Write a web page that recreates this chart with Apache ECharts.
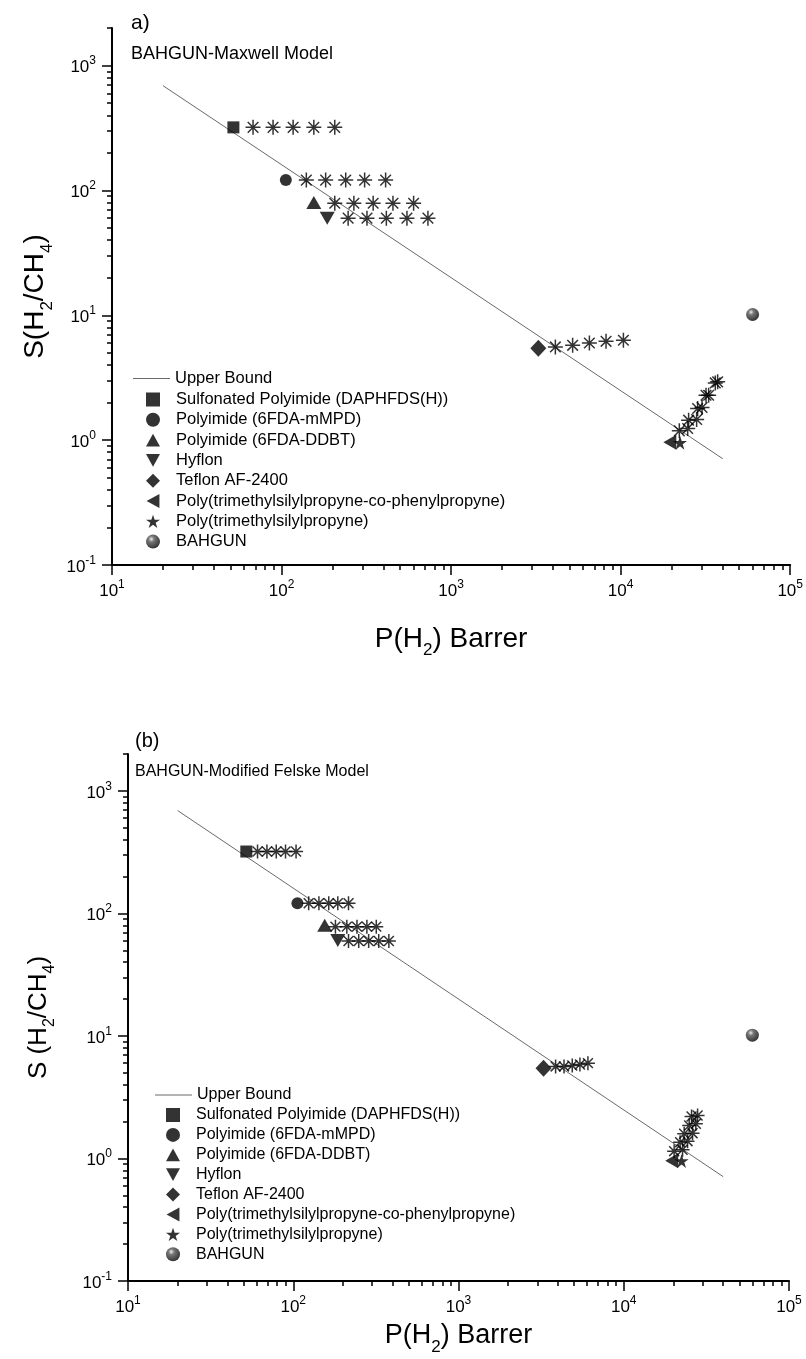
<!DOCTYPE html>
<html><head><meta charset="utf-8">
<script src="https://cdn.jsdelivr.net/npm/echarts@6/dist/echarts.min.js"></script>
<style>html,body{margin:0;padding:0;background:#fff}#c{width:806px;height:1359px}</style>
</head><body><div id="c"></div><script>
// ---------------- DATA ----------------
const upperBoundP = [20, 40000];
const upperBoundS = [690, 0.71];

const materialNames = ['Sulfonated Polyimide (DAPHFDS(H))', 'Polyimide (6FDA-mMPD)', 'Polyimide (6FDA-DDBT)', 'Hyflon', 'Teflon AF-2400', 'Poly(trimethylsilylpropyne-co-phenylpropyne)', 'Poly(trimethylsilylpropyne)', 'BAHGUN'];
const materialP = [52, 106, 155, 186, 3270, 19500, 22400, 60000];
const materialS = [320, 121, 80, 60, 5.45, 0.96, 0.955, 10.15];

// a) Maxwell model predictions (asterisks)
const maxwellDaphP = [67.9, 89.1, 117, 155, 206];
const maxwellDaphS = [320, 320, 320, 320, 320];
const maxwellMmpdP = [140, 182, 239, 309, 411];
const maxwellMmpdS = [121, 121, 121, 121, 121];
const maxwellDdbtP = [206, 267, 347, 454, 601];
const maxwellDdbtS = [79, 79, 79, 79, 79];
const maxwellHyflonP = [247, 319, 415, 549, 730];
const maxwellHyflonS = [60, 60, 60, 60, 60];
const maxwellTeflonP = [4120, 5210, 6540, 8200, 10380];
const maxwellTeflonS = [5.58, 5.75, 6.0, 6.19, 6.31];
const maxwellCoPP_P = [22180, 25170, 28440, 31880, 36140];
const maxwellCoPP_S = [1.187, 1.445, 1.793, 2.29, 2.873];
const maxwellPtmspP = [24850, 28060, 30200, 33040, 37330];
const maxwellPtmspS = [1.24, 1.464, 1.826, 2.29, 2.93];

// b) Modified Felske model predictions (asterisks)
const felskeDaphP = [60.8, 69.3, 78.9, 89.8, 104];
const felskeDaphS = [320, 320, 320, 320, 320];
const felskeMmpdP = [124, 143, 164, 186, 216];
const felskeMmpdS = [121, 121, 121, 121, 121];
const felskeDdbtP = [180, 211, 243, 279, 318];
const felskeDdbtS = [78, 78, 78, 78, 78];
const felskeHyflonP = [216, 249, 286, 329, 379];
const felskeHyflonS = [59.6, 59.6, 59.6, 59.6, 59.6];
const felskeTeflonP = [3870, 4350, 4880, 5430, 6070];
const felskeTeflonS = [5.64, 5.64, 5.74, 5.85, 6.0];
const felskeCoPP_P = [20180, 21930, 23210, 24890, 25720];
const felskeCoPP_S = [1.147, 1.358, 1.591, 1.859, 2.20];
const felskePtmspP = [22700, 24330, 26080, 27300, 27980];
const felskePtmspS = [1.178, 1.384, 1.609, 1.919, 2.244];

const xMajorTicks = [10, 100, 1000, 10000, 100000];
const yMajorTicks = [0.1, 1, 10, 100, 1000];

// ---------------- BUILD ----------------
const FONT = '"Liberation Sans", Arial, Helvetica, sans-serif';
function zip(a, b) { return a.map((v, i) => [v, b[i]]); }
function minorList(lo, hi) {
  const out = [];
  for (let d = lo; d < hi; d *= 10) for (let k = 1; k <= 9; k++) { const v = +(d * k).toPrecision(6); if (v <= hi) out.push(v); }
  out.push(hi);
  return out;
}
const xMinor = minorList(10, 100000);
const yMinor = minorList(0.1, 1000).concat([2000]);

const ASTER = 'path://M0,5L10,5M5,0L5,10M1.46,1.46L8.54,8.54M8.54,1.46L1.46,8.54';
const STAR = 'path://M50,0L61.2,34.5L97.6,34.5L68.2,55.9L79.4,90.5L50,69.1L20.6,90.5L31.8,55.9L2.4,34.5L38.8,34.5Z';
const TRI_UP = 'path://M6,0L12,11L0,11Z';
const TRI_DOWN = 'path://M0,0L12,0L6,11Z';
const TRI_LEFT = 'path://M0,6L11,0L11,12Z';
const sphere = new echarts.graphic.RadialGradient(0.38, 0.32, 0.7, [
  { offset: 0, color: '#e8e8e8' }, { offset: 0.3, color: '#555' }, { offset: 1, color: '#000' }]);

const markerDefs = [
  { symbol: 'rect', size: 12 },
  { symbol: 'circle', size: 12 },
  { symbol: TRI_UP, size: [15, 13] },
  { symbol: TRI_DOWN, size: [15, 13] },
  { symbol: 'diamond', size: [16, 17] },
  { symbol: TRI_LEFT, size: [13, 15] },
  { symbol: STAR, size: 14 },
  { symbol: 'circle', size: 13, sphere: true }
];

function supLabel(v) {
  const e = Math.round(Math.log10(v));
  return '{b|10}{s|' + e + '}';
}
function labelRich(fs) {
  return {
    b: { fontSize: fs, fontFamily: FONT, color: '#000', verticalAlign: 'bottom' },
    s: { fontSize: Math.round(fs * 0.68), fontFamily: FONT, color: '#000', verticalAlign: 'bottom', padding: [0, 0, Math.round(fs * 0.5), 0] }
  };
}
function nameRich(fs) {
  return {
    t: { fontSize: fs, fontFamily: FONT, color: '#000', verticalAlign: 'top' },
    u: { fontSize: Math.round(fs * 0.62), fontFamily: FONT, color: '#000', verticalAlign: 'top', padding: [Math.round(fs * 0.62), 0, 0, 0] }
  };
}

const grids = [
  { left: 112, top: 28, width: 679, height: 537 },
  { left: 128, top: 754, width: 661, height: 527 }
];

const xAxes = [], yAxes = [];
const axisCfg = [
  { lblFs: 17, nameFs: 28, xName: '{t|P(H}{u|2}{t|) Barrer}', xGap: 60, yName: '{t|S(H}{u|2}{t|/CH}{u|4}{t|)}', yGap: 56, yNameFs: 28 },
  { lblFs: 17, nameFs: 27, xName: '{t|P(H}{u|2}{t|) Barrer}', xGap: 41, yName: '{t|S (H}{u|2}{t|/CH}{u|4}{t|)}', yGap: 70, yNameFs: 26 }
];
axisCfg.forEach((c, g) => {
  const lineStyle = { color: '#000', width: 2 };
  xAxes.push({
    type: 'log', gridIndex: g, position: 'bottom', min: 10, max: 100000, logBase: 10,
    axisLine: { show: true, lineStyle }, splitLine: { show: false },
    axisTick: { show: true, inside: false, length: 10, lineStyle: { color: '#000', width: 1.5 }, customValues: xMajorTicks },
    axisLabel: { show: true, margin: 14, customValues: xMajorTicks, formatter: supLabel, rich: labelRich(c.lblFs) },
    name: c.xName, nameLocation: 'middle', nameGap: c.xGap, nameTextStyle: { rich: nameRich(c.nameFs) }
  });
  xAxes.push({
    type: 'log', gridIndex: g, position: 'bottom', min: 10, max: 100000, logBase: 10,
    axisLine: { show: false }, splitLine: { show: false }, axisLabel: { show: false },
    axisTick: { show: true, length: 5, lineStyle: { color: '#000', width: 1.5 }, customValues: xMinor }
  });
  yAxes.push({
    type: 'log', gridIndex: g, position: 'left', min: 0.1, max: 2000, logBase: 10,
    axisLine: { show: true, lineStyle }, splitLine: { show: false },
    axisTick: { show: true, inside: false, length: 10, lineStyle: { color: '#000', width: 1.5 }, customValues: yMajorTicks },
    axisLabel: { show: true, margin: 16, customValues: yMajorTicks, formatter: supLabel, rich: labelRich(c.lblFs) },
    name: c.yName, nameLocation: 'middle', nameGap: c.yGap, nameTextStyle: { rich: nameRich(c.yNameFs) }
  });
  yAxes.push({
    type: 'log', gridIndex: g, position: 'left', min: 0.1, max: 2000, logBase: 10,
    axisLine: { show: false }, splitLine: { show: false }, axisLabel: { show: false },
    axisTick: { show: true, length: 5, lineStyle: { color: '#000', width: 1.5 }, customValues: yMinor }
  });
});

const series = [];
function addChart(g, asterSets, asterSize) {
  const xi = g * 2, yi = g * 2;
  series.push({
    name: 'Upper Bound', type: 'line', xAxisIndex: xi, yAxisIndex: yi,
    data: zip(upperBoundP, upperBoundS), showSymbol: false, symbol: 'none',
    lineStyle: { color: '#6a6a6a', width: 1 }, itemStyle: { color: '#6a6a6a' }, silent: true, z: 1
  });
  materialNames.forEach((n, i) => {
    const m = markerDefs[i];
    series.push({
      name: n, type: 'scatter', xAxisIndex: xi, yAxisIndex: yi,
      data: [[materialP[i], materialS[i]]],
      symbol: m.symbol, symbolSize: m.size,
      itemStyle: { color: m.sphere ? sphere : '#000' }, z: 3
    });
  });
  asterSets.forEach((s, k) => {
    series.push({
      name: 'model-' + g + '-' + k, type: 'scatter', xAxisIndex: xi, yAxisIndex: yi,
      data: zip(s[0], s[1]), symbol: ASTER, symbolSize: asterSize,
      itemStyle: { color: 'rgba(0,0,0,0)', borderColor: '#000', borderWidth: 1.5 }, z: 4
    });
  });
}
addChart(0, [[maxwellDaphP, maxwellDaphS], [maxwellMmpdP, maxwellMmpdS], [maxwellDdbtP, maxwellDdbtS], [maxwellHyflonP, maxwellHyflonS], [maxwellTeflonP, maxwellTeflonS], [maxwellCoPP_P, maxwellCoPP_S], [maxwellPtmspP, maxwellPtmspS]], 15);
addChart(1, [[felskeDaphP, felskeDaphS], [felskeMmpdP, felskeMmpdS], [felskeDdbtP, felskeDdbtS], [felskeHyflonP, felskeHyflonS], [felskeTeflonP, felskeTeflonS], [felskeCoPP_P, felskeCoPP_S], [felskePtmspP, felskePtmspS]], 14);

function lineLegend(left, top, fs) {
  return {
    orient: 'vertical', left, top, padding: 0, itemWidth: 37, itemHeight: 1,
    selectedMode: false, data: [{ name: 'Upper Bound', icon: 'rect' }],
    textStyle: { fontSize: fs, fontFamily: FONT, color: '#000', lineHeight: 16 }
  };
}
function markerLegend(left, top, gap, fs, textPad) {
  return {
    orient: 'vertical', left, top, padding: 0, itemWidth: 14, itemHeight: 14, itemGap: gap,
    symbolKeepAspect: true, selectedMode: false,
    data: materialNames.map((n, i) => ({ name: n, icon: markerDefs[i].symbol })),
    textStyle: { fontSize: fs, fontFamily: FONT, color: '#000', lineHeight: 16, padding: [0, 0, 0, textPad] }
  };
}

const option = {
  animation: false,
  backgroundColor: '#fff',
  title: [
    { text: 'a)', left: 131, top: 13, padding: 0, textStyle: { fontSize: 21, fontWeight: 'normal', fontFamily: FONT, color: '#000' } },
    { text: 'BAHGUN-Maxwell Model', left: 131, top: 45, padding: 0, textStyle: { fontSize: 18, fontWeight: 'normal', fontFamily: FONT, color: '#000' } },
    { text: '(b)', left: 135, top: 731, padding: 0, textStyle: { fontSize: 20, fontWeight: 'normal', fontFamily: FONT, color: '#000' } },
    { text: 'BAHGUN-Modified Felske Model', left: 135, top: 764, padding: 0, textStyle: { fontSize: 16, fontWeight: 'normal', fontFamily: FONT, color: '#000' } }
  ],
  legend: [
    lineLegend(133, 370, 16.5),
    markerLegend(146, 391, 3.3, 16.5, 11),
    lineLegend(155, 1087, 16),
    markerLegend(166, 1107, 3.9, 16, 11)
  ],
  grid: grids,
  xAxis: xAxes,
  yAxis: yAxes,
  series
};
const chart = echarts.init(document.getElementById('c'), null, { renderer: 'canvas' });
chart.setOption(option);
</script></body></html>
